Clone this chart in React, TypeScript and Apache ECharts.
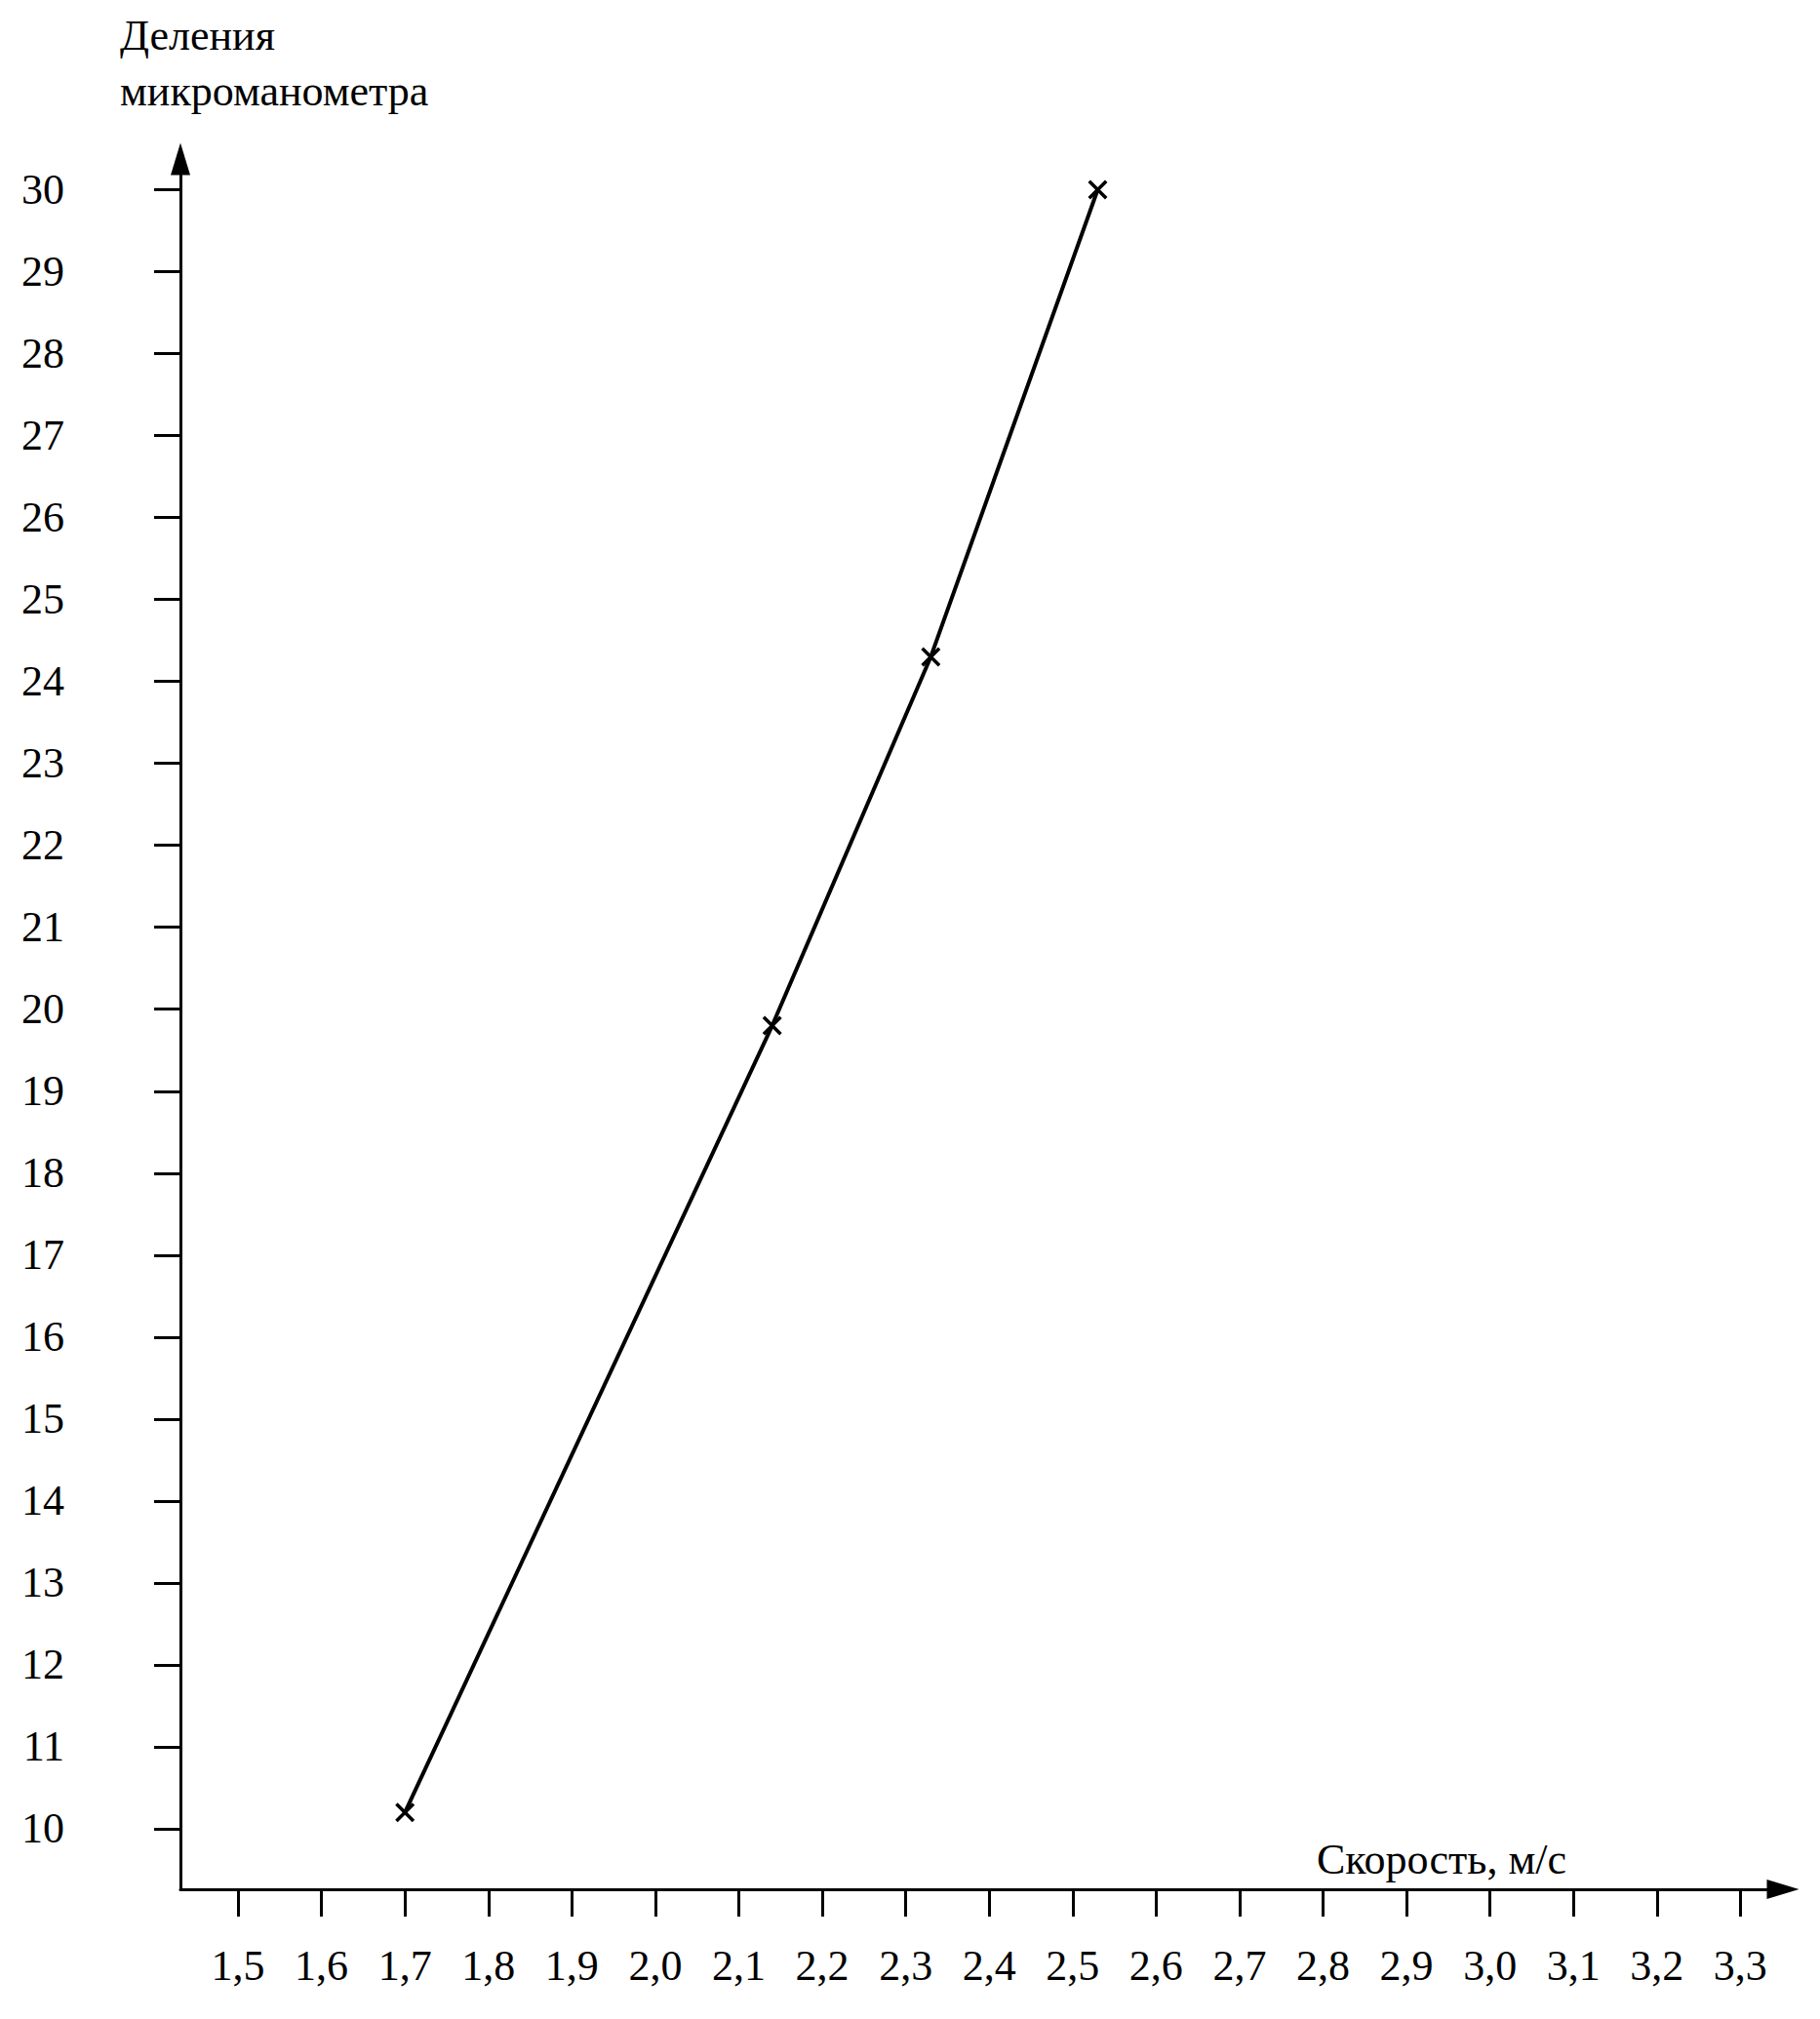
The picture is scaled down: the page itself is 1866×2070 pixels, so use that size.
import React, { useEffect, useRef } from "react";
import * as echarts from "echarts";

// Data
const speedValues = [1.7, 2.14, 2.33, 2.53];
const divisionValues = [10.2, 19.8, 24.3, 30.0];

const xTicks = [1.5, 1.6, 1.7, 1.8, 1.9, 2.0, 2.1, 2.2, 2.3, 2.4, 2.5, 2.6, 2.7, 2.8, 2.9, 3.0, 3.1, 3.2, 3.3];
const yTicks = [10, 11, 12, 13, 14, 15, 16, 17, 18, 19, 20, 21, 22, 23, 24, 25, 26, 27, 28, 29, 30];

const yTitleLines = ["Деления", "микроманометра"];
const xTitle = "Скорость, м/с";

const FONT = "'Liberation Serif', 'DejaVu Serif', serif";

export default function App() {
  const ref = useRef<HTMLDivElement>(null);

  useEffect(() => {
    if (!ref.current) return;
    const chart = echarts.init(ref.current, undefined, { renderer: "svg" });
    const points = speedValues.map((v, i) => [v, divisionValues[i]]);
    const xSymbol =
      "path://M0,2.5 L2.5,0 L10,7.5 L17.5,0 L20,2.5 L12.5,10 L20,17.5 L17.5,20 L10,12.5 L2.5,20 L0,17.5 L7.5,10 Z";

    chart.setOption({
      animation: false,
      backgroundColor: "#ffffff",
      grid: { left: 185, right: 38, top: 163, bottom: 133, containLabel: false },
      xAxis: {
        type: "value",
        min: 1.431,
        max: 3.351,
        splitLine: { show: false },
        axisLine: {
          show: true,
          onZero: false,
          symbol: ["none", "triangle"],
          symbolSize: [20, 33],
          lineStyle: { color: "#000", width: 3 },
        },
        axisTick: {
          show: true,
          inside: false,
          length: 28,
          customValues: xTicks,
          lineStyle: { color: "#000", width: 3 },
        },
        axisLabel: {
          show: true,
          customValues: xTicks,
          margin: 56,
          fontSize: 44,
          fontFamily: FONT,
          color: "#000",
          formatter: (v: number) => v.toFixed(1).replace(".", ","),
        },
      },
      yAxis: {
        type: "value",
        min: 9.262,
        max: 30.375,
        splitLine: { show: false },
        axisLine: {
          show: true,
          onZero: false,
          symbol: ["none", "triangle"],
          symbolSize: [20, 33],
          lineStyle: { color: "#000", width: 3 },
        },
        axisTick: {
          show: true,
          inside: false,
          length: 27,
          customValues: yTicks,
          lineStyle: { color: "#000", width: 3 },
        },
        axisLabel: {
          show: true,
          customValues: yTicks,
          margin: 119,
          fontSize: 44,
          fontFamily: FONT,
          color: "#000",
          formatter: (v: number) => String(Math.round(v)),
        },
      },
      graphic: [
        {
          type: "text",
          left: 123,
          top: 8,
          style: {
            text: yTitleLines.join("\n"),
            font: `44px ${FONT}`,
            fill: "#000",
            lineHeight: 57,
          },
        },
        {
          type: "text",
          left: 1350,
          top: 1884,
          style: {
            text: xTitle,
            font: `44px ${FONT}`,
            fill: "#000",
          },
        },
      ],
      series: [
        {
          type: "line",
          data: points,
          symbol: xSymbol,
          symbolSize: 20,
          showSymbol: true,
          itemStyle: { color: "#000" },
          lineStyle: { color: "#000", width: 4 },
        },
      ],
    });
    return () => chart.dispose();
  }, []);

  return (
    <div
      ref={ref}
      style={{ position: "absolute", left: 0, top: 0, width: 1866, height: 2070, background: "#fff" }}
    />
  );
}
